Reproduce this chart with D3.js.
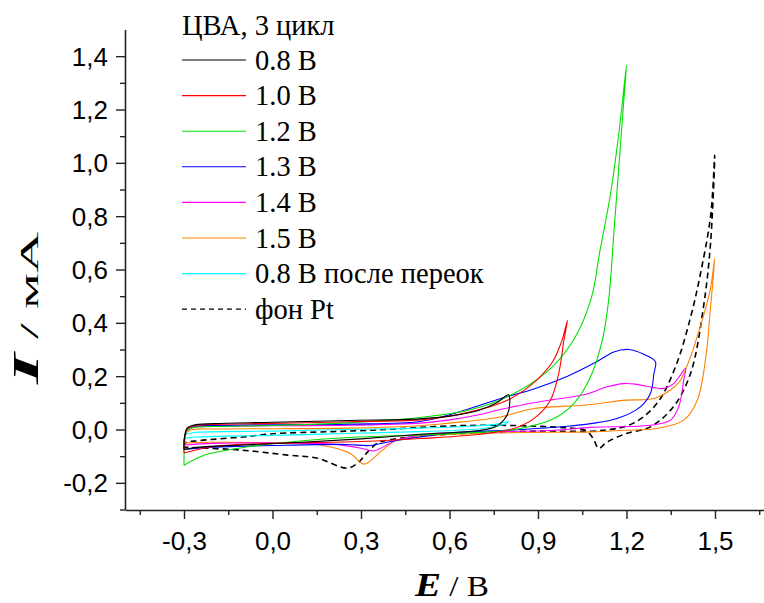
<!DOCTYPE html>
<html>
<head>
<meta charset="utf-8">
<script src="https://cdn.jsdelivr.net/npm/d3@7"></script>
<style>
  body { margin: 0; background: #fff; }
  svg { display: block; }
</style>
</head>
<body>
<div id="chart"></div>
<script>
// Cyclic voltammograms, [E (V), I (mA)] in scan order
const cv08 = [[-0.3,-0.075],[-0.298,-0.03],[-0.29,0.005],[-0.27,0.016],[-0.2,0.022],[0,0.027],[0.26,0.034],[0.5,0.04],[0.6,0.05],[0.7,0.072],[0.76,0.1],[0.8,0.13],
  [0.801,0.072],[0.784,0.035],[0.756,0.01],[0.7,-0.004],[0.5,-0.018],[0.3,-0.035],[0.1,-0.048],[-0.1,-0.058],[-0.25,-0.066],[-0.3,-0.075]];
const cv10 = [[-0.3,-0.088],[-0.298,-0.035],[-0.29,0.0],[-0.27,0.013],[-0.2,0.019],[0,0.023],[0.26,0.029],[0.5,0.036],[0.6,0.05],[0.67,0.066],[0.75,0.09],[0.8,0.112],[0.85,0.145],[0.9,0.19],[0.95,0.255],[0.98,0.33],[1.0,0.41],
  [0.988,0.335],[0.97,0.21],[0.942,0.11],[0.886,0.041],[0.818,0.004],[0.728,-0.015],[0.5,-0.034],[0.3,-0.045],[0,-0.052],[-0.2,-0.064],[-0.3,-0.088]];
const cv12 = [[-0.3,-0.134],[-0.298,-0.05],[-0.29,-0.005],[-0.27,0.007],[-0.2,0.011],[0,0.015],[0.25,0.025],[0.5,0.045],[0.67,0.074],[0.8,0.125],[0.93,0.216],[1.02,0.335],[1.08,0.49],[1.11,0.67],[1.146,0.885],[1.174,1.11],[1.2,1.367],
  [1.191,1.235],[1.174,0.985],[1.157,0.735],[1.14,0.49],[1.118,0.335],[1.078,0.197],[1.021,0.097],[0.954,0.041],[0.841,0.004],[0.728,-0.009],[0.5,-0.02],[0.26,-0.03],[0,-0.053],[-0.12,-0.071],[-0.23,-0.096],[-0.3,-0.134]];
const cv13 = [[-0.3,-0.074],[-0.298,-0.03],[-0.29,0.0],[-0.27,0.011],[-0.2,0.015],[0,0.018],[0.26,0.02],[0.5,0.03],[0.615,0.06],[0.784,0.12],[0.886,0.152],[1.0,0.2],[1.1,0.255],[1.157,0.291],[1.208,0.3],[1.259,0.282],[1.298,0.254],
  [1.293,0.21],[1.281,0.135],[1.247,0.085],[1.168,0.041],[1.078,0.022],[1.0,0.012],[0.84,0.0],[0.6,-0.014],[0.5,-0.028],[0.4,-0.045],[0.33,-0.06],[0.25,-0.056],[0,-0.06],[-0.2,-0.066],[-0.3,-0.074]];
const cv14 = [[-0.3,-0.058],[-0.298,-0.03],[-0.29,-0.005],[-0.27,0.008],[-0.2,0.012],[0,0.014],[0.26,0.016],[0.5,0.024],[0.6,0.036],[0.7,0.055],[0.773,0.075],[0.886,0.1],[0.95,0.112],[1.055,0.13],[1.135,0.16],[1.19,0.172],[1.23,0.17],[1.293,0.157],[1.327,0.154],[1.36,0.172],[1.4,0.229],
  [1.394,0.185],[1.377,0.085],[1.349,0.035],[1.281,0.016],[1.078,0.008],[0.954,-0.003],[0.5,-0.02],[0.42,-0.04],[0.343,-0.08],[0.3,-0.07],[0.2,-0.055],[0,-0.05],[-0.2,-0.052],[-0.3,-0.058]];
const cv15 = [[-0.3,-0.05],[-0.298,-0.025],[-0.29,-0.01],[-0.27,0.0],[-0.2,0.002],[0,0.003],[0.26,0.005],[0.5,0.014],[0.6,0.024],[0.773,0.047],[0.886,0.079],[1.055,0.091],[1.2,0.11],[1.293,0.116],[1.349,0.148],[1.38,0.18],[1.417,0.272],[1.44,0.35],[1.462,0.43],[1.485,0.53],[1.499,0.641],
  [1.485,0.46],[1.469,0.272],[1.44,0.11],[1.394,0.035],[1.304,0.004],[1.19,-0.003],[1.078,-0.009],[0.8,-0.012],[0.5,-0.025],[0.42,-0.04],[0.366,-0.084],[0.31,-0.13],[0.264,-0.09],[0.163,-0.058],[0,-0.05],[-0.2,-0.048],[-0.3,-0.05]];
const cv08after = [[-0.3,-0.04],[-0.295,-0.02],[-0.27,-0.012],[0,-0.006],[0.25,0.0],[0.5,0.005],[0.7,0.014],[0.76,0.02],[0.8,0.03],
  [0.79,0.022],[0.75,0.01],[0.7,0.002],[0.5,-0.008],[0.25,-0.015],[0,-0.022],[-0.3,-0.035],[-0.3,-0.04]];
const fonPt = [[-0.3,-0.066],[-0.295,-0.05],[-0.25,-0.042],[-0.1,-0.028],[0.0,-0.016],[0.2,-0.008],[0.35,-0.002],[0.57,0.012],[0.75,0.016],[0.9,0.012],[1.0,0.006],[1.06,-0.003],[1.085,-0.03],[1.106,-0.071],[1.125,-0.055],[1.146,-0.04],[1.2,-0.015],[1.281,0.01],[1.359,0.085],[1.417,0.21],[1.461,0.46],[1.485,0.7],[1.499,1.028],
  [1.485,0.8],[1.451,0.586],[1.417,0.42],[1.366,0.235],[1.304,0.099],[1.224,0.024],[1.122,-0.003],[0.9,-0.006],[0.7,-0.012],[0.5,-0.025],[0.4,-0.038],[0.356,-0.051],[0.322,-0.085],[0.292,-0.123],[0.254,-0.145],[0.153,-0.108],[0.051,-0.096],[-0.108,-0.077],[-0.3,-0.066]];

const seriesLabels = ['0.8 В', '1.0 В', '1.2 В', '1.3 В', '1.4 В', '1.5 В', '0.8 В после переок', 'фон Pt'];
const seriesData = [cv08, cv10, cv12, cv13, cv14, cv15, cv08after, fonPt];
const legendTitle = 'ЦВА, 3 цикл';

const xMajor = [-0.3, 0, 0.3, 0.6, 0.9, 1.2, 1.5];
const xMinor = [-0.45, -0.15, 0.15, 0.45, 0.75, 1.05, 1.35, 1.65];
const yMajor = [-0.2, 0, 0.2, 0.4, 0.6, 0.8, 1.0, 1.2, 1.4];
const yMinor = [-0.3, -0.1, 0.1, 0.3, 0.5, 0.7, 0.9, 1.1, 1.3];

const colors = ['#000000', '#ff0000', '#00e000', '#0000ff', '#ff00ff', '#ff8000', '#00ffff', '#000000'];
const dashes = [null, null, null, null, null, null, null, '6,4'];

const W = 764, H = 603;
const svg = d3.select('#chart').append('svg').attr('width', W).attr('height', H);

const x = d3.scaleLinear().domain([-0.5, 1.7]).range([125, 125 + 2.2 * 295]);
const y = d3.scaleLinear().domain([-0.3, 1.5]).range([509.5, 29.5]);

const fmt = d => d3.format('.1f')(d).replace('.', ',').replace('−', '-');

// curves
const line = d3.line().x(d => x(d[0])).y(d => y(d[1])).curve(d3.curveCatmullRom.alpha(0.5));
const order = [7, 6, 5, 4, 3, 2, 1, 0];
svg.append('g').selectAll('path')
    .data(order)
  .enter().append('path')
    .attr('d', i => line(seriesData[i]))
    .attr('fill', 'none')
    .attr('stroke', i => colors[i])
    .attr('stroke-width', i => i === 7 ? 1.6 : 1.1)
    .attr('stroke-dasharray', i => dashes[i]);

// axes
const xAxis = svg.append('g').attr('transform', 'translate(0,510)')
    .call(d3.axisBottom(x).tickValues(xMajor).tickSize(9).tickSizeOuter(0).tickFormat(fmt));
svg.append('g').attr('transform', 'translate(0,510)')
    .call(d3.axisBottom(x).tickValues(xMinor).tickSize(5).tickSizeOuter(0).tickFormat(''))
    .select('.domain').remove();
const yAxis = svg.append('g').attr('transform', 'translate(125,0)')
    .call(d3.axisLeft(y).tickValues(yMajor).tickSize(9).tickSizeOuter(0).tickFormat(fmt));
svg.append('g').attr('transform', 'translate(125,0)')
    .call(d3.axisLeft(y).tickValues(yMinor).tickSize(5).tickSizeOuter(0).tickFormat(''))
    .select('.domain').remove();

svg.selectAll('.domain').attr('stroke', '#222').attr('stroke-width', 1.6);
svg.selectAll('.tick line').attr('stroke', '#222').attr('stroke-width', 1.4);
xAxis.selectAll('text').attr('font-family', 'Liberation Sans, Arial, sans-serif')
    .attr('font-size', 26).attr('fill', '#000').attr('dy', null).attr('y', 40);
yAxis.selectAll('text').attr('font-family', 'Liberation Sans, Arial, sans-serif')
    .attr('font-size', 26).attr('fill', '#000').attr('x', -17).attr('dy', '0.35em');

// axis titles
const xt = svg.append('text').attr('x', 452).attr('y', 596).attr('text-anchor', 'middle')
    .attr('font-family', 'Liberation Serif, Times New Roman, serif').attr('font-size', 29)
    .attr('textLength', 74).attr('lengthAdjust', 'spacingAndGlyphs');
xt.append('tspan').attr('font-weight', 'bold').attr('font-style', 'italic').attr('font-size', 34).text('E');
xt.append('tspan').text(' / В');

const yt = svg.append('text').attr('transform', 'translate(38,308) rotate(-90)').attr('text-anchor', 'middle')
    .attr('font-family', 'Liberation Serif, Times New Roman, serif').attr('font-size', 26)
    .attr('textLength', 152).attr('lengthAdjust', 'spacingAndGlyphs');
yt.append('tspan').attr('font-weight', 'bold').attr('font-style', 'italic').attr('font-size', 36).text('I');
yt.append('tspan').text(' / мА');

// legend
const lg = svg.append('g').attr('font-family', 'Liberation Serif, Times New Roman, serif').attr('font-size', 28.5);
lg.append('text').attr('x', 182).attr('y', 35).text(legendTitle);
const rows = lg.selectAll('g.row').data(seriesLabels).enter().append('g')
    .attr('transform', (d, i) => `translate(182,${60 + i * 35.6})`);
rows.append('line').attr('x1', 0).attr('x2', 64)
    .attr('stroke', (d, i) => colors[i]).attr('stroke-width', (d, i) => i === 7 ? 1.3 : 1.1)
    .attr('stroke-dasharray', (d, i) => i === 7 ? '5,4' : null);
rows.append('text').attr('x', 73).attr('y', 9.5).text(d => d);
</script>
</body>
</html>
